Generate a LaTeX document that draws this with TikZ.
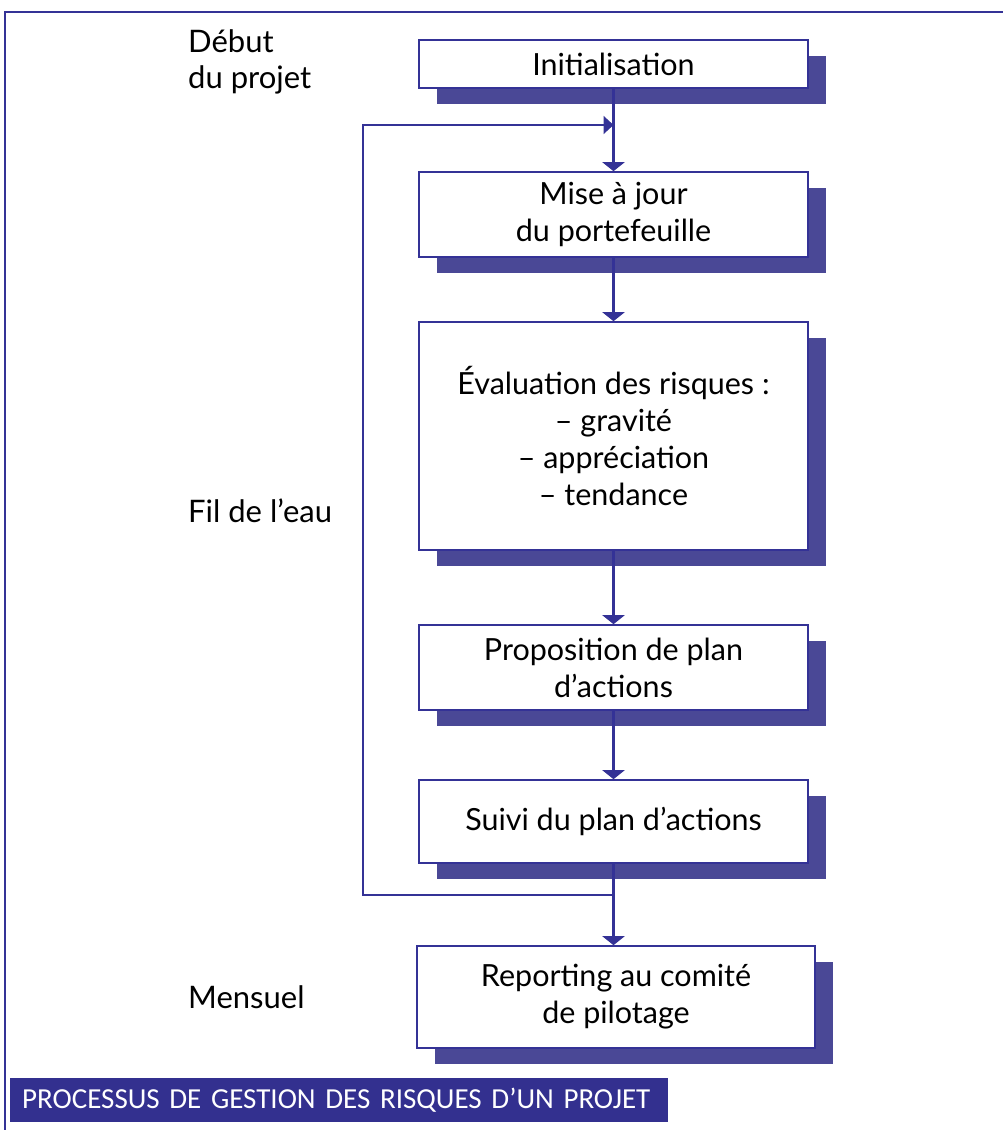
\documentclass[tikz,border=0pt]{standalone}
\usepackage{fontspec}
\setmainfont{Lato}
\newfontfamily\capfont{Carlito}
\usetikzlibrary{arrows.meta,shadows}
\definecolor{navy}{RGB}{52,50,150}
\definecolor{shadowc}{RGB}{74,72,150}
\definecolor{banner}{RGB}{51,48,143}
\tikzset{
  stepbox/.style={draw=navy, line width=1.6pt, fill=white, align=center,
    inner sep=0pt, minimum width=389pt, font=\fontsize{30.5}{37}\selectfont,
    drop shadow={shadow xshift=18pt, shadow yshift=-16pt,
      fill=shadowc, draw=none, opacity=1, rounded corners=5pt}},
  flow/.style={draw=navy, line width=3pt, -{Triangle[width=22pt,length=9pt]}},
  back/.style={draw=navy, line width=2pt, -{Triangle[width=18pt,length=10pt]}},
  phase/.style={anchor=west, align=left, inner sep=0pt,
    font=\fontsize{31}{36}\selectfont},
}
\begin{document}
\begin{tikzpicture}[x=1pt,y=-1pt]
\useasboundingbox (0,0) rectangle (1003,1130);
% frame: top and left rules
\draw[navy, line width=2pt] (1003,12) -- (5,12) -- (5,1130);

% process steps
\node[stepbox, minimum height=48pt]  (init)  at (613.5,64)    {Initialisation};
\node[stepbox, minimum height=85pt]  (mise)  at (613.5,214.5) {Mise à jour\\du portefeuille};
\node[stepbox, minimum height=228pt] (eval)  at (613.5,436)   {Évaluation des risques :\\– gravité\\– appréciation\\– tendance};
\node[stepbox, minimum height=85pt]  (prop)  at (613.5,667.5) {Proposition de plan\\d’actions};
\node[stepbox, minimum height=83pt]  (suivi) at (613.5,821.5) {Suivi du plan d’actions};
\node[stepbox, minimum height=102pt, minimum width=398pt] (report) at (616,997) {Reporting au comité\\de pilotage};

% phase labels
\node[phase] (debut)   at (188,62)  {Début\\du projet};
\node[phase] (fil)     at (188,511) {Fil de l’eau};
\node[phase] (mensuel) at (188,997) {Mensuel};

% main flow
\draw[flow] (init.south) -- (mise.north);
\draw[flow] (mise.south) -- (eval.north);
\draw[flow] (eval.south) -- (prop.north);
\draw[flow] (prop.south) -- (suivi.north);
\draw[flow] (suivi.south) -- (suivi.south |- report.north);

% feedback loop back to the portfolio update
\coordinate (jb) at (suivi.south |- 0,895);
\coordinate (lb) at (363,895);
\coordinate (lt) at (363,125);
\coordinate (jt) at (init.south |- 0,125);
\draw[back] (jb) -- (lb) -- (lt) -- (jt);

% caption banner
\node[fill=banner, text=white, anchor=west, minimum height=44pt,
  minimum width=658pt, inner sep=0pt, text width=658pt, align=left,
  font=\capfont\fontsize{29}{32}\selectfont] (caption) at (10,1100)
  {\hspace*{12pt}PROCESSUS DE GESTION DES RISQUES D’UN PROJET};
\end{tikzpicture}
\end{document}
